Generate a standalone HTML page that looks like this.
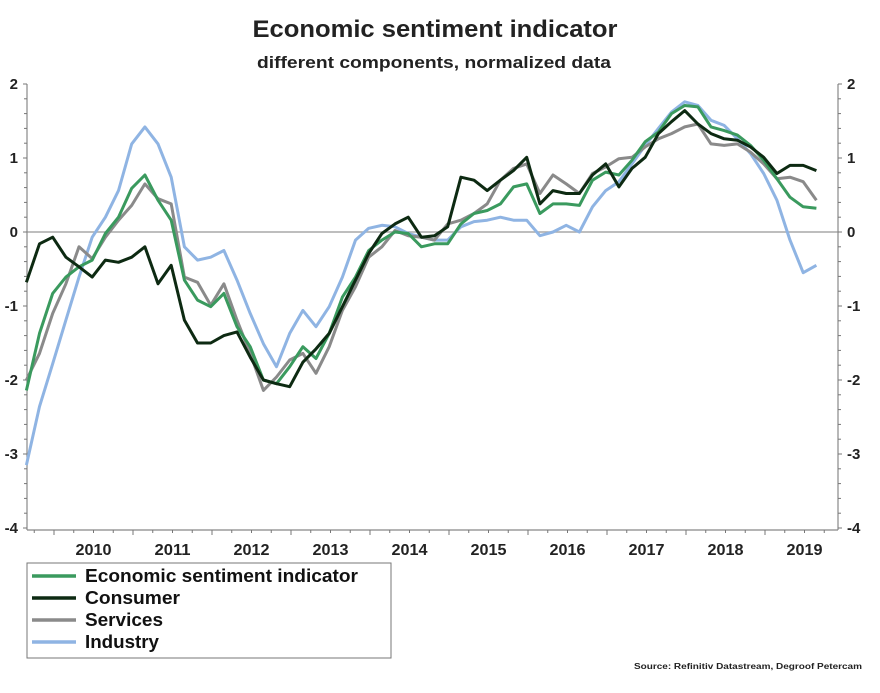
<!DOCTYPE html>
<html><head><meta charset="utf-8"><style>
body{margin:0;background:#fff;}
svg text{font-family:"Liberation Sans",Arial,sans-serif;font-weight:bold;}
</style></head><body>
<svg id="chart" width="880" height="688" viewBox="0 0 880 688" xmlns="http://www.w3.org/2000/svg">
<text x="435" y="37" text-anchor="middle" font-size="24" textLength="365" lengthAdjust="spacingAndGlyphs" fill="#222">Economic sentiment indicator</text>
<text x="434" y="68" text-anchor="middle" font-size="17" textLength="354" lengthAdjust="spacingAndGlyphs" fill="#222">different components, normalized data</text>
<g id="axes"></g>
<g id="series"></g>
<g>
<rect x="27" y="563" width="364" height="95" fill="#fff" stroke="#777" stroke-width="1"/>
<g><line x1="32" y1="576" x2="76" y2="576" stroke="#3a9a5e" stroke-width="3.5"/><text x="85" y="582" font-size="18" textLength="273" lengthAdjust="spacingAndGlyphs" fill="#111">Economic sentiment indicator</text></g>
<g><line x1="32" y1="598" x2="76" y2="598" stroke="#0d2a12" stroke-width="3.5"/><text x="85" y="604" font-size="18" textLength="95" lengthAdjust="spacingAndGlyphs" fill="#111">Consumer</text></g>
<g><line x1="32" y1="620" x2="76" y2="620" stroke="#8a8a8a" stroke-width="3.5"/><text x="85" y="626" font-size="18" textLength="78" lengthAdjust="spacingAndGlyphs" fill="#111">Services</text></g>
<g><line x1="32" y1="642" x2="76" y2="642" stroke="#8fb4e3" stroke-width="3.5"/><text x="85" y="648" font-size="18" textLength="74" lengthAdjust="spacingAndGlyphs" fill="#111">Industry</text></g>
</g>
<text x="862" y="669" text-anchor="end" font-size="8" textLength="228" lengthAdjust="spacingAndGlyphs" fill="#222">Source: Refinitiv Datastream, Degroof Petercam</text>
</svg>
<script>
const startYear = 2009.65;
const stepYears = 1/6;
const yearLabels = ["2010","2011","2012","2013","2014","2015","2016","2017","2018","2019"];
const yTicks = [2,1,0,-1,-2,-3,-4];
const consumer = [-0.68,-0.16,-0.07,-0.34,-0.47,-0.61,-0.38,-0.41,-0.34,-0.2,-0.7,-0.45,-1.19,-1.5,-1.5,-1.4,-1.35,-1.69,-2.0,-2.05,-2.09,
 -1.76,-1.58,-1.37,-1.01,-0.65,-0.29,-0.02,0.11,0.2,-0.07,-0.05,0.07,0.74,0.7,0.56,0.7,0.83,1.01,0.38,0.56,0.52,
 0.52,0.77,0.92,0.61,0.86,1.01,1.33,1.49,1.64,1.46,1.33,1.26,1.24,1.15,1.01,0.79,0.9,0.9,0.83];
const esi = [-2.14,-1.37,-0.83,-0.61,-0.47,-0.38,-0.02,0.2,0.59,0.77,0.43,0.16,-0.65,-0.92,-1.01,-0.83,-1.28,-1.55,-2.0,-2.05,-1.82,
 -1.55,-1.71,-1.37,-0.88,-0.61,-0.25,-0.11,0,-0.02,-0.2,-0.16,-0.16,0.11,0.25,0.29,0.38,0.61,0.65,0.25,0.38,0.38,
 0.36,0.7,0.81,0.77,0.97,1.22,1.35,1.6,1.71,1.69,1.42,1.37,1.31,1.17,0.97,0.72,0.47,0.34,0.32];
const services = [-2.0,-1.64,-1.1,-0.7,-0.2,-0.36,-0.07,0.16,0.36,0.65,0.45,0.38,-0.61,-0.68,-0.99,-0.7,-1.19,-1.64,-2.14,-1.96,-1.73,
 -1.64,-1.91,-1.55,-1.06,-0.74,-0.34,-0.2,0.02,-0.05,-0.07,-0.11,0.11,0.16,0.25,0.38,0.7,0.86,0.92,0.52,0.77,0.65,
 0.52,0.79,0.88,0.99,1.01,1.15,1.26,1.33,1.42,1.46,1.19,1.17,1.19,1.08,0.92,0.72,0.74,0.68,0.43];
const industry = [-3.15,-2.36,-1.78,-1.19,-0.61,-0.07,0.2,0.56,1.19,1.42,1.19,0.74,-0.2,-0.38,-0.34,-0.25,-0.65,-1.1,-1.51,-1.82,-1.37,
 -1.06,-1.28,-1.01,-0.61,-0.11,0.05,0.09,0.07,-0.02,-0.07,-0.11,-0.11,0.07,0.14,0.16,0.2,0.16,0.16,-0.05,0,0.09,
 0,0.34,0.56,0.68,0.92,1.17,1.4,1.62,1.76,1.71,1.51,1.44,1.26,1.06,0.79,0.43,-0.11,-0.55,-0.45];

const NS="http://www.w3.org/2000/svg";
const X0=27,X1=838,Y0=84,Y1=530;
function xScale(t){return 54+(t-2010)*79;}
function yScale(v){return 232-v*74;}
function mk(tag,attrs,parent){const e=document.createElementNS(NS,tag);for(const k in attrs)e.setAttribute(k,attrs[k]);parent.appendChild(e);return e;}
const axes=document.getElementById('axes');
const z=mk('line',{x1:X0,x2:X1,y1:yScale(0),y2:yScale(0),stroke:'#a8a8a8','stroke-width':1.5},axes);


const la=mk('line',{x1:X0,x2:X0,y1:Y0,y2:Y1,stroke:'#888','stroke-width':1.2},axes);


const ra=mk('line',{x1:X1,x2:X1,y1:Y0,y2:Y1,stroke:'#888','stroke-width':1.2},axes);


const ba=mk('line',{x1:X0,x2:X1,y1:Y1,y2:Y1,stroke:'#888','stroke-width':1.2},axes);


for(let v=-4;v<=2.001;v+=0.2){const y=yScale(v);const major=Math.abs(v-Math.round(v))<0.01;
 mk('line',{x1:X0-(major?4:3),x2:X0,y1:y,y2:y,stroke:'#777','stroke-width':1},axes);
 mk('line',{x1:X1,x2:X1+(major?4:3),y1:y,y2:y,stroke:'#777','stroke-width':1},axes);}
yTicks.forEach(v=>{
 const l=mk('text',{x:X0-9,y:yScale(v)+5,'text-anchor':'end','font-size':15,fill:'#222'},axes);l.textContent=v;
 
 
 const r=mk('text',{x:X1+9,y:yScale(v)+5,'text-anchor':'start','font-size':15,fill:'#222'},axes);r.textContent=v;
 
 
});
for(let t=2009.75;t<=2019.76;t+=0.25){const x=xScale(t);if(x<X0||x>X1)continue;const major=Math.abs(t-Math.round(t))<0.01;
 mk('line',{x1:x,x2:x,y1:Y1,y2:Y1+(major?5:3),stroke:'#777','stroke-width':1},axes);}
yearLabels.forEach(s=>{const t=parseFloat(s)+0.5;
 const e=mk('text',{x:xScale(t),y:555,'text-anchor':'middle','font-size':16,textLength:36,lengthAdjust:'spacingAndGlyphs',fill:'#222'},axes);e.textContent=s;
 
 
});
const ser=document.getElementById('series');
function draw(arr,color,name){
 const d=arr.map((v,i)=>(i?'L':'M')+xScale(startYear+i*stepYears).toFixed(1)+','+yScale(v).toFixed(1)).join(' ');
 const p=mk('path',{d:d,fill:'none',stroke:color,'stroke-width':3,'stroke-linejoin':'round'},ser);
 
 
}
draw(industry,'#8fb4e3','industry-line');
draw(services,'#8a8a8a','services-line');
draw(esi,'#3a9a5e','esi-line');
draw(consumer,'#0d2a12','consumer-line');
</script>
</body></html>
